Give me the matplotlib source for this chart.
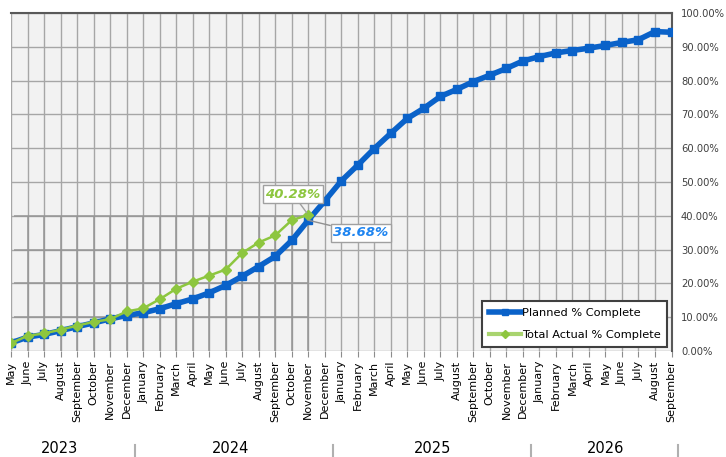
import matplotlib.pyplot as plt
import matplotlib.transforms as mtransforms
from matplotlib.lines import Line2D

# month categories, May 2023 .. September 2026
months = ["May", "June", "July", "August", "September", "October", "November", "December",
          "January", "February", "March", "April", "May", "June", "July", "August",
          "September", "October", "November", "December",
          "January", "February", "March", "April", "May", "June", "July", "August",
          "September", "October", "November", "December",
          "January", "February", "March", "April", "May", "June", "July", "August",
          "September"]
years = ["2023", "2024", "2025", "2026"]

planned = [2.4, 4.1, 4.9, 6.0, 7.2, 8.3, 9.5, 10.5,
           11.3, 12.5, 14.0, 15.4, 17.2, 19.4, 22.1, 25.0, 28.0, 32.7, 38.68, 44.4,
           50.3, 55.0, 59.9, 64.4, 68.8, 71.8, 75.3, 77.4, 79.7, 81.6, 83.6, 85.8,
           87.1, 88.2, 88.9, 89.6, 90.4, 91.3, 92.1, 94.5, 94.3]
actual = [2.3, 4.5, 5.2, 6.3, 7.5, 8.6, 9.4, 11.7,
          12.6, 15.3, 18.4, 20.5, 22.3, 24.1, 29.0, 32.1, 34.2, 38.7, 40.28]

x_plan = list(range(len(planned)))
x_act = list(range(len(actual)))

blue = "#0a62c9"
green = "#8dc63f"

fig = plt.figure(figsize=(7.26, 4.57), dpi=100)
ax = fig.add_axes([11 / 726, 106 / 457, 661 / 726, 338 / 457])
ax.set_facecolor("#f2f2f2")

ax.set_xlim(0.157, 40.03)
ax.set_ylim(0, 100)

# grid
ax.set_xticks(x_plan)
ax.set_xticklabels(months, rotation=90, fontsize=8)
ax.set_yticks(range(0, 101, 10))
ax.set_yticklabels([f"{v:.2f}%" for v in range(0, 101, 10)], fontsize=7.2, color="#404040")
ax.yaxis.tick_right()
ax.tick_params(axis="y", length=0, pad=6.5)
ax.tick_params(axis="x", length=4, color="#8c8c8c", pad=3)
ax.grid(True, color="#a6a6a6", lw=1)
ax.set_axisbelow(True)
# darker overlapping grid in lower left block
ax.hlines([10, 20, 30, 40], 0.157, 18, color="#969696", lw=1.1, zorder=1.5)
ax.vlines(x_act[1:], 0, 40, color="#969696", lw=1.1, zorder=1.5)

for s in ["left", "bottom"]:
    ax.spines[s].set_visible(False)
for s in ["top", "right"]:
    ax.spines[s].set_color("#595959")
    ax.spines[s].set_linewidth(1.5)

ax.plot(x_plan, planned, color=blue, lw=4, marker="s", ms=5.5, zorder=4)
ax.plot(x_act, actual, color=green, lw=1.8, marker="D", ms=5, zorder=5)

# labels on the last actual point
ax.annotate(f"{actual[-1]:.2f}%", (x_act[-1], actual[-1]), xytext=(-11, 15),
            textcoords="offset points", ha="center", va="center",
            fontsize=9.5, color=green, style="italic", weight="bold",
            bbox=dict(boxstyle="square,pad=0.2", fc="white", ec="#a0a0a0", lw=1),
            arrowprops=dict(arrowstyle="-", color="#a0a0a0", lw=1, shrinkA=0, shrinkB=2),
            zorder=6)
ax.annotate(f"{planned[18]:.2f}%", (x_plan[18], planned[18]), xytext=(38, -9),
            textcoords="offset points", ha="center", va="center",
            fontsize=9.5, color="#1e84f0", style="italic", weight="bold",
            bbox=dict(boxstyle="square,pad=0.2", fc="white", ec="#a0a0a0", lw=1),
            arrowprops=dict(arrowstyle="-", color="#909090", lw=1, shrinkA=0, shrinkB=0),
            zorder=6)

# legend
handles = [Line2D([], [], color=blue, lw=4, marker="s", ms=4),
           Line2D([], [], color="#a9d46f", lw=3, marker="D", ms=4, mfc=green, mec=green)]
leg = ax.legend(handles, ["Planned % Complete", "Total Actual % Complete"],
                loc="lower right", bbox_to_anchor=(0.993, 0.012), borderaxespad=0,
                fontsize=8.2, fancybox=False, framealpha=1, edgecolor="#404040",
                handlelength=2.8, handletextpad=0.1, labelspacing=1.1,
                borderpad=0.6)
leg.get_frame().set_linewidth(1.5)
leg.set_zorder(7)

# year row
trans = mtransforms.blended_transform_factory(ax.transData, ax.transAxes)
year_x = [2.93, 13.3, 25.5, 36.0]
for yx, yr in zip(year_x, years):
    ax.text(yx, -0.287, yr, transform=trans, ha="center", va="center", fontsize=10.5,
            clip_on=False)
for sx in [7.5, 19.5, 31.5, 40.4]:
    ax.plot([sx, sx], [-0.278, -0.32], transform=trans, color="#b0b0b0", lw=1.5,
            clip_on=False)

fig.savefig("out.png", dpi=100)
